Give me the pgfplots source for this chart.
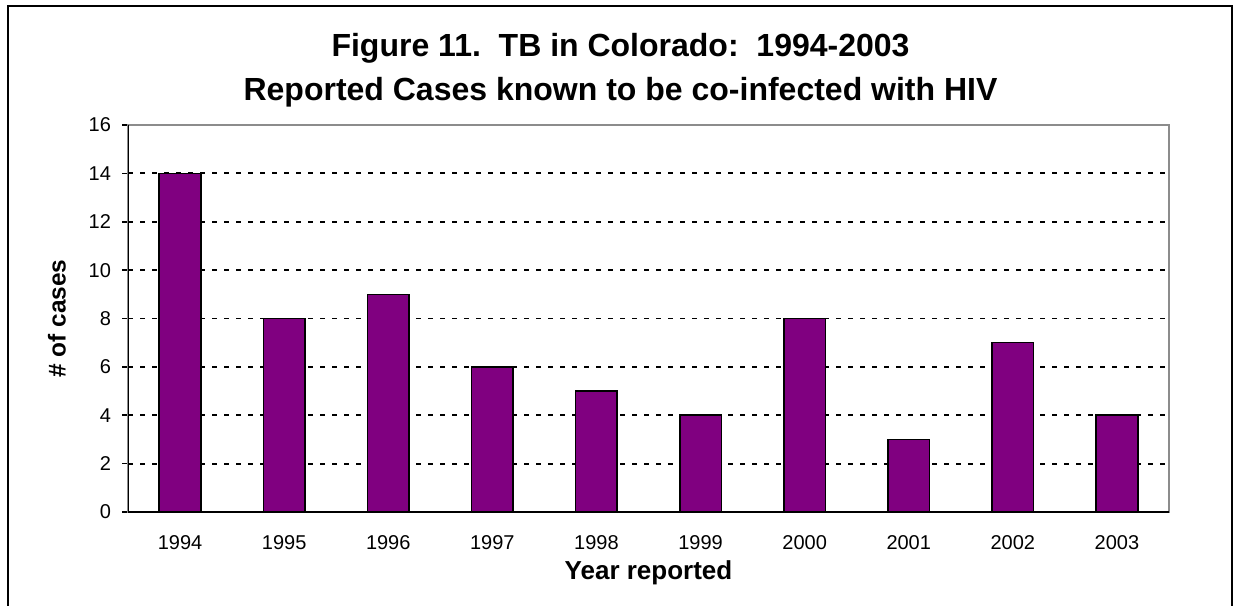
\documentclass[border=0pt]{standalone}
\usepackage{fontspec}
\setmainfont{Liberation Sans}
\usepackage{pgfplots}
\pgfplotsset{compat=1.18}
\definecolor{barpurple}{HTML}{800080}
\begin{document}
\begin{tikzpicture}
\useasboundingbox (0,0) rectangle (617.5pt,302.5pt);
% outer frame (bottom edge lies below the picture)
\draw[black, line width=1.4pt] (4pt,-5pt) -- (4pt,299.5pt) -- (616pt,299.5pt) -- (616pt,-5pt);
\node[anchor=base, font=\fontsize{16}{18}\selectfont\bfseries] at (310.25pt,274pt) {Figure 11.\ \ TB in Colorado:\ \ 1994-2003};
\node[anchor=base, font=\fontsize{16}{18}\selectfont\bfseries] at (310.25pt,252pt) {Reported Cases known to be co-infected with HIV};
\begin{axis}[
  at={(64pt,46.5pt)}, anchor=south west,
  scale only axis, width=520.5pt, height=193.5pt,
  xmin=-0.5, xmax=9.5, ymin=0, ymax=16,
  xtick={0,...,9},
  xticklabels={1994,1995,1996,1997,1998,1999,2000,2001,2002,2003},
  ytick={0,2,...,16},
  /pgf/number format/assume math mode=true,
  ticklabel style={font=\fontsize{10}{12}\selectfont},
  xticklabel style={yshift=-5pt},
  yticklabel style={xshift=-2pt},
  xtick pos=bottom, ytick pos=left,
  tick align=outside,
  xtick style={draw=none},
  ytick style={black, line width=0.8pt},
  major tick length=3pt,
  extra x ticks={-0.5,0.5,...,9.5},
  extra x tick labels={},
  extra x tick style={xtick style={black, line width=0.8pt}, major tick length=3pt, grid=none},
  ymajorgrids,
  major grid style={black, line width=0.9pt, dash pattern=on 2.5pt off 3.5pt},
  axis line style={draw=gray!90, line width=0.8pt},
  xlabel={Year reported},
  ylabel={\# of cases},
  xlabel style={font=\fontsize{13}{15}\selectfont\bfseries, at={(axis description cs:0.5,-0.1757)}, anchor=base},
  ylabel style={font=\fontsize{12.2}{14}\selectfont\bfseries, at={(axis description cs:-0.0682,0.5)}, anchor=center, rotate=0},
  bar width=0.4,
]
\addplot[ybar, fill=barpurple, draw=black, line width=0.8pt] coordinates {
  (0,14) (1,8) (2,9) (3,6) (4,5) (5,4) (6,8) (7,3) (8,7) (9,4)
};
\draw[black, line width=1pt] (rel axis cs:0,1) -- (rel axis cs:0,0) -- (rel axis cs:1,0);
\end{axis}
\end{tikzpicture}
\end{document}
